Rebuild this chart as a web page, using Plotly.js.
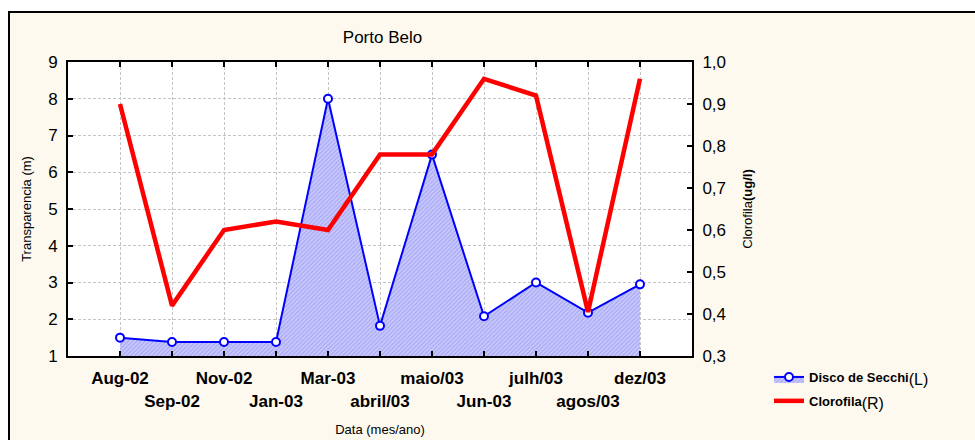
<!DOCTYPE html>
<html>
<head>
<meta charset="utf-8">
<script src="https://cdn.plot.ly/plotly-3.0.1.min.js"></script>
<style>
  html, body { margin: 0; padding: 0; background: #ffffff; width: 975px; height: 440px; overflow: hidden; }
  #frame { position: absolute; left: 8px; top: 11px; width: 1000px; height: 460px;
           border-left: 2px solid #000; border-top: 2px solid #000; background: #fdf9ee; }
  #chart { position: absolute; left: 0; top: 0; width: 975px; height: 440px; }
</style>
</head>
<body>
<div id="frame"></div>
<div id="chart"></div>
<script>
// Data
const categories = ['Aug-02','Sep-02','Nov-02','Jan-03','Mar-03','abril/03','maio/03','Jun-03','julh/03','agos/03','dez/03'];
const secchi = [1.5, 1.38, 1.38, 1.38, 8.0, 1.82, 6.48, 2.08, 3.0, 2.18, 2.95];
const clorofila = [0.90, 0.42, 0.60, 0.62, 0.60, 0.78, 0.78, 0.96, 0.92, 0.405, 0.96];
const leftTicks = [1, 2, 3, 4, 5, 6, 7, 8, 9];
const rightTicks = [0.3, 0.4, 0.5, 0.6, 0.7, 0.8, 0.9, 1.0];

const FONT = 'Liberation Sans, Arial, sans-serif';

// staggered category labels (second row for odd positions)
const tickText = categories.map((c, i) => (i % 2 ? '<br>' + c : c));

const traces = [
  {
    x: categories, y: secchi, type: 'scatter', mode: 'lines+markers',
    name: '<b>Disco de Secchi</b><sub><span style="font-size:16px">(L)</span></sub>',
    legendgroup: 'a',
    xaxis: 'x', yaxis: 'y',
    line: { color: '#0000ff', width: 2 },
    marker: { symbol: 'circle', size: 8, color: '#ffffff', line: { color: '#0000ff', width: 2 } },
    fill: 'tozeroy',
    fillcolor: '#c4c4fb',
    fillpattern: { shape: '/', bgcolor: '#cacaff', fgcolor: '#a6a6f2', size: 3, solidity: 0.4 },
    cliponaxis: true
  },
  {
    x: categories, y: clorofila, type: 'scatter', mode: 'lines',
    name: '<b>Clorofila</b><sub><span style="font-size:16px">(R)</span></sub>',
    legendgroup: 'b',
    xaxis: 'x', yaxis: 'y2',
    line: { color: '#ff0000', width: 4.5 }
  }
];

const layout = {
  width: 975, height: 440,
  paper_bgcolor: 'rgba(0,0,0,0)',
  plot_bgcolor: '#ffffff',
  separators: ',.',
  font: { family: FONT, color: '#000000', size: 13 },
  margin: { l: 68, r: 283, t: 62, b: 84, pad: 0 },
  title: {
    text: 'Porto Belo', font: { family: FONT, size: 17, color: '#000' },
    xref: 'container', x: 0.3923, xanchor: 'center',
    yref: 'container', y: 1 - 37 / 440, yanchor: 'middle'
  },
  xaxis: {
    type: 'category',
    range: [-1, categories.length],
    tickmode: 'array', tickvals: categories, ticktext: tickText,
    tickfont: { family: FONT, size: 17, weight: 'bold', color: '#000' },
    tickangle: 0,
    showline: true, linecolor: '#000', linewidth: 2, mirror: 'ticks',
    ticks: 'inside', ticklen: 5, tickwidth: 2, tickcolor: '#000',
    ticklabelstandoff: 6,
    showgrid: true, gridcolor: '#c4c4c4', gridwidth: 1, griddash: '3px,2px',
    zeroline: false,
    title: { text: 'Data (mes/ano)', font: { family: FONT, size: 13 }, standoff: 15 }
  },
  yaxis: {
    range: [1, 9], tickmode: 'array', tickvals: leftTicks,
    tickfont: { family: FONT, size: 17, color: '#000' },
    showline: true, linecolor: '#000', linewidth: 2, mirror: false,
    ticks: 'inside', ticklen: 5, tickwidth: 2, tickcolor: '#000',
    ticklabelstandoff: 5,
    showgrid: true, gridcolor: '#c4c4c4', gridwidth: 1, griddash: '3px,2px',
    zeroline: false,
    title: { text: 'Transparencia (m)', font: { family: FONT, size: 13 }, standoff: 14 }
  },
  yaxis2: {
    overlaying: 'y', side: 'right', anchor: 'x',
    range: [0.3, 1.0], tickmode: 'array', tickvals: rightTicks, tickformat: '.1f',
    tickfont: { family: FONT, size: 17, color: '#000' },
    showline: true, linecolor: '#000', linewidth: 2,
    ticks: 'inside', ticklen: 5, tickwidth: 2, tickcolor: '#000',
    ticklabelstandoff: 5,
    showgrid: false, zeroline: false,
    title: { text: 'Clorofila<b>(ug/l)</b>', font: { family: FONT, size: 13 }, standoff: 18 }
  },
  showlegend: true,
  legend: {
    xref: 'container', yref: 'container',
    x: 769 / 975, y: 1 - 362 / 440, xanchor: 'left', yanchor: 'top',
    bgcolor: 'rgba(0,0,0,0)', borderwidth: 0,
    font: { family: FONT, size: 13, color: '#000' },
    tracegroupgap: 4, itemwidth: 30
  }
};

Plotly.newPlot('chart', traces, layout, { displayModeBar: false, staticPlot: true });
</script>
</body>
</html>
